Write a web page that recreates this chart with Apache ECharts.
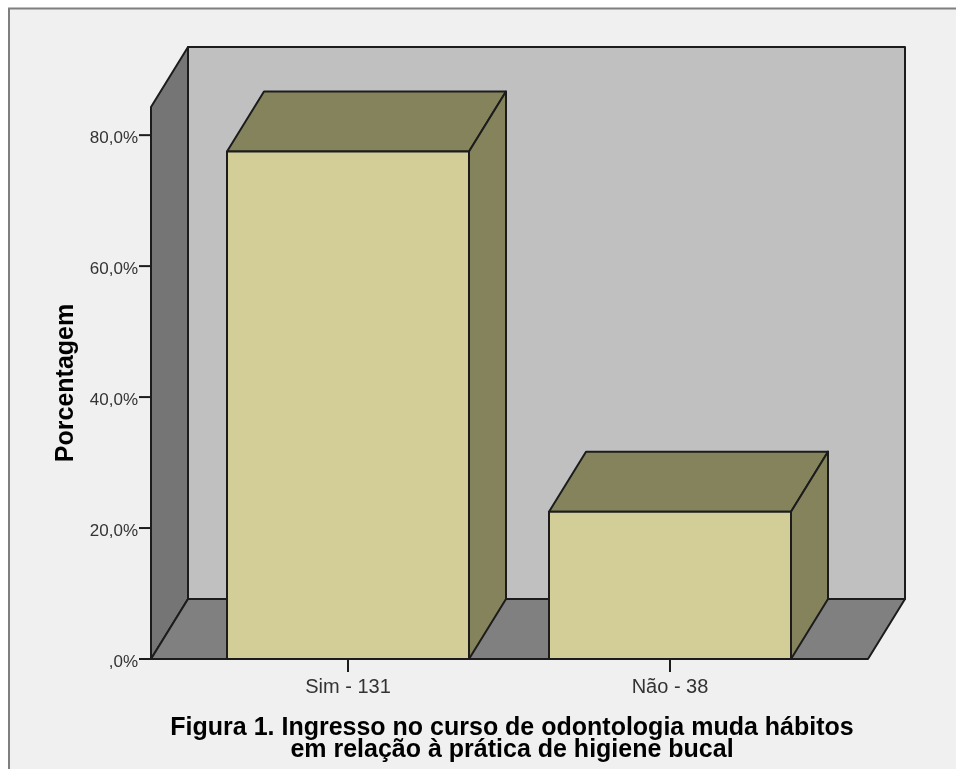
<!DOCTYPE html>
<html>
<head>
<meta charset="utf-8">
<style>
html, body { margin: 0; padding: 0; background: #fff; }
#chart { width: 956px; height: 769px; }
</style>
<script src="https://cdn.jsdelivr.net/npm/echarts@6/dist/echarts.min.js"></script>
</head>
<body>
<div id="chart"></div>
<script>
const categories = ['Sim - 131', 'Não - 38'];
const percentages = [77.5, 22.5];
const yTicks = [0, 20, 40, 60, 80];

const DEPTH_X = 37;
const DEPTH_Y = -60;
const LINE = '#1c1c1c';
const BAR_WIDTH = 242;
const Y_MAX = 84.3;

const chart = echarts.init(document.getElementById('chart'), null, { renderer: 'canvas' });

const face = (points, fill) => ({
    type: 'polygon',
    shape: { points },
    style: { fill, stroke: LINE, lineWidth: 2, lineJoin: 'round' }
});

// walls and floor, drawn from the axis extents
function renderWalls(params, api) {
    const g = params.coordSys;
    const x0 = g.x - DEPTH_X + 1;
    const x1 = x0 + 717;
    const y0 = api.coord([0, 0])[1];
    const yTop = api.coord([0, Y_MAX])[1];
    const d = (p) => [p[0] + DEPTH_X, p[1] + DEPTH_Y];
    return {
        type: 'group',
        children: [
            face([d([x0, yTop]), d([x1, yTop]), d([x1, y0]), d([x0, y0])], '#c0c0c0'),
            face([[x0, yTop], d([x0, yTop]), d([x0, y0]), [x0, y0]], '#757575'),
            face([[x0, y0], [x1, y0], d([x1, y0]), d([x0, y0])], '#808080')
        ]
    };
}

function renderBar(params, api) {
    const top = api.coord([api.value(0), api.value(1)]);
    const base = api.coord([api.value(0), 0]);
    const l = top[0] - BAR_WIDTH / 2;
    const r = top[0] + BAR_WIDTH / 2;
    const t = top[1];
    const b = base[1];
    return {
        type: 'group',
        children: [
            face([[l, t], [l + DEPTH_X, t + DEPTH_Y], [r + DEPTH_X, t + DEPTH_Y], [r, t]], '#85835c'),
            face([[r, t], [r + DEPTH_X, t + DEPTH_Y], [r + DEPTH_X, b + DEPTH_Y], [r, b]], '#85835c'),
            face([[l, t], [r, t], [r, b], [l, b]], '#d3ce97')
        ]
    };
}

chart.setOption({
    backgroundColor: '#ffffff',
    animation: false,
    textStyle: { fontFamily: "'Liberation Sans', Arial, sans-serif" },
    graphic: [{
        type: 'rect',
        z: -10,
        silent: true,
        shape: { x: 9, y: 8.5, width: 1000, height: 800 },
        style: { fill: '#f0f0f0', stroke: '#7f7f7f', lineWidth: 2 }
    }],
    title: {
        text: 'Figura 1. Ingresso no curso de odontologia muda hábitos\nem relação à prática de higiene bucal',
        left: 507,
        top: 712,
        textAlign: 'center',
        textStyle: { fontSize: 25, fontWeight: 'bold', color: '#000', lineHeight: 22 }
    },
    grid: { left: 187, right: 125, top: 107, bottom: 110 },
    xAxis: {
        type: 'category',
        data: categories,
        axisLine: { show: false },
        axisTick: { show: true, alignWithLabel: true, length: 13, lineStyle: { color: LINE, width: 2 } },
        axisLabel: { color: '#333', fontSize: 20, margin: 18 }
    },
    yAxis: {
        type: 'value',
        min: 0,
        max: Y_MAX,
        offset: 35,
        name: 'Porcentagem',
        nameLocation: 'middle',
        nameGap: 73,
        nameTextStyle: { fontSize: 25, fontWeight: 'bold', color: '#000' },
        splitLine: { show: false },
        axisLine: { show: false },
        axisTick: { show: false },
        axisLabel: {
            color: '#333',
            fontSize: 17,
            margin: 14,
            verticalAlign: 'top',
            lineHeight: 7,
            customValues: yTicks,
            formatter: (v) => (v === 0 ? ',0%' : v.toFixed(1).replace('.', ',') + '%')
        }
    },
    series: [
        {
            type: 'custom',
            z: 1,
            silent: true,
            renderItem: renderWalls,
            data: [[0, 0]],
            encode: { x: 0, y: 1 }
        },
        {
            // tick marks left of the wall
            type: 'custom',
            z: 2,
            silent: true,
            clip: false,
            renderItem: (params, api) => {
                const y = api.coord([0, api.value(0)])[1];
                const x = params.coordSys.x - DEPTH_X + 1;
                return {
                    type: 'line',
                    shape: { x1: x - 12, y1: y, x2: x, y2: y },
                    style: { stroke: LINE, lineWidth: 2 }
                };
            },
            data: yTicks.map(v => [v]),
            encode: { y: 0 }
        },
        {
            type: 'custom',
            z: 3,
            clip: false,
            renderItem: renderBar,
            data: percentages.map((v, i) => [i, v]),
            encode: { x: 0, y: 1 }
        }
    ]
});
</script>
</body>
</html>
